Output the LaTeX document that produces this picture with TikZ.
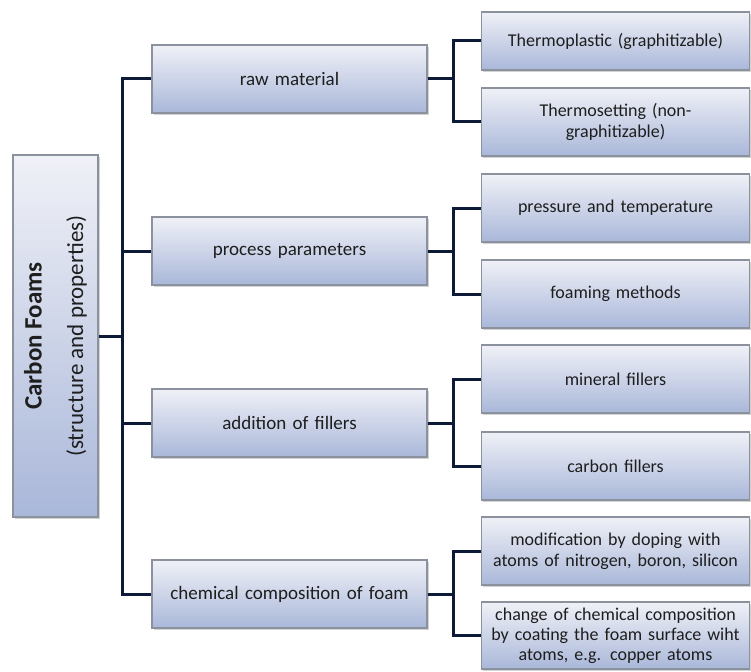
\documentclass[tikz,border=0pt]{standalone}
\usepackage{fontspec}
\setmainfont{Carlito}
\usetikzlibrary{shadows}
\definecolor{boxtop}{HTML}{F0F1F7}
\definecolor{boxbot}{HTML}{A9B7D9}
\definecolor{boxedge}{HTML}{8C919E}
\definecolor{conncol}{HTML}{0C1A38}
\definecolor{txt}{HTML}{1E1E1E}
\tikzset{
  box/.style={draw=boxedge, line width=1.2pt, top color=boxtop, bottom color=boxbot,
    inner sep=2pt, align=center, text=txt,
    drop shadow={shadow xshift=1.5pt, shadow yshift=-2pt, opacity=0.35}},
  lvone/.style={box, minimum width=275pt, minimum height=68pt, text width=268pt,
    font=\fontsize{19}{21}\selectfont},
  lvtwo/.style={box, minimum width=267pt, minimum height=68pt, text width=264pt,
    font=\fontsize{18}{21}\selectfont},
  conn/.style={draw=conncol, line width=3pt}
}
\begin{document}
\begin{tikzpicture}[x=1pt,y=-1pt]
\useasboundingbox (0,0) rectangle (751,671);
% root
\node[box, minimum width=85pt, minimum height=362pt] (root) at (55.5,336)
  {\rotatebox{90}{\begin{tabular}{c}\fontsize{25}{27}\selectfont\bfseries Carbon Foams\\[21pt]\fontsize{23}{25}\selectfont (structure and properties)\end{tabular}}};
% level 1
\node[lvone] (raw)  at (289.5,79)  {raw material};
\node[lvone] (proc) at (289.5,251) {process parameters};
\node[lvone] (fill) at (289.5,423) {addition of fillers};
\node[lvone] (chem) at (289.5,594) {chemical composition of foam};
% level 2
\node[lvtwo, minimum height=58pt] (tp) at (615.5,41)  {Thermoplastic (graphitizable)};
\node[lvtwo] (ts)  at (615.5,122) {Thermosetting (non-\\graphitizable)};
\node[lvtwo] (pt)  at (615.5,208) {pressure and temperature};
\node[lvtwo] (fm)  at (615.5,294) {foaming methods};
\node[lvtwo] (mf)  at (615.5,379) {mineral fillers};
\node[lvtwo] (cf)  at (615.5,466) {carbon fillers};
\node[lvtwo] (md)  at (615.5,551) {modification by doping with\\atoms of nitrogen, boron, silicon};
\node[lvtwo, minimum height=67pt, font=\fontsize{18}{20}\selectfont] (cc) at (615.5,635.5) {change of chemical composition\\by coating the foam surface wiht\\atoms, e.g. copper atoms};
% trunk
\coordinate (t) at (122,336);
\draw[conn] (root.east) -- (t);
\draw[conn] (raw.west) -| (t) |- (chem.west);
\draw[conn] (proc.west) -- (proc.west -| t);
\draw[conn] (fill.west) -- (fill.west -| t);
% brackets
\foreach \p/\a/\b in {raw/tp/ts, proc/pt/fm, fill/mf/cf, chem/md/cc}{
  \coordinate (b\p) at ([xshift=26pt]\p.east);
  \draw[conn] (\p.east) -- (b\p);
  \draw[conn] (\a.west) -| (b\p) |- (\b.west);
}
\end{tikzpicture}
\end{document}
